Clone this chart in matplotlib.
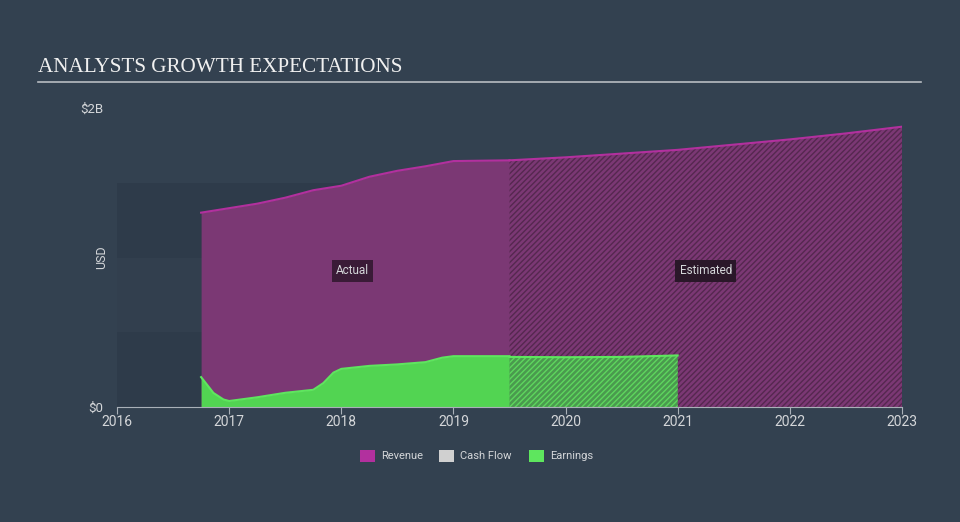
import matplotlib.pyplot as plt
import numpy as np
from matplotlib.patches import Rectangle

plt.rcParams['font.family'] = ['Roboto', 'DejaVu Sans']
plt.rcParams['hatch.linewidth'] = 1.0

# revenue, in $B
rev_years = [2016.75, 2017.0, 2017.25, 2017.5, 2017.75, 2018.0, 2018.25, 2018.5, 2018.75, 2019.0, 2019.5]
rev_values = [1.30, 1.33, 1.36, 1.40, 1.45, 1.48, 1.54, 1.58, 1.61, 1.645, 1.65]
rev_est_years = [2019.5, 2020.0, 2020.5, 2021.0, 2021.5, 2022.0, 2022.5, 2023.0]
rev_est_values = [1.65, 1.67, 1.695, 1.72, 1.755, 1.79, 1.83, 1.875]

# earnings, in $B
earn_years = [2016.75, 2016.86, 2016.95, 2017.0, 2017.25, 2017.5, 2017.75, 2017.84, 2017.93,
              2018.0, 2018.25, 2018.5, 2018.75, 2018.9, 2019.0, 2019.5]
earn_values = [0.20, 0.094, 0.05, 0.04, 0.065, 0.095, 0.115, 0.16, 0.23,
               0.255, 0.275, 0.285, 0.30, 0.33, 0.34, 0.34]
earn_est_years = [2019.5, 2020.0, 2020.5, 2021.0]
earn_est_values = [0.335, 0.333, 0.335, 0.345]

tick_years = [2016, 2017, 2018, 2019, 2020, 2021, 2022, 2023]
band_edges = [0.0, 0.5, 1.0, 1.5]
now = 2019.5

BG = '#334150'
TXT = '#d4d6d9'
REV_FILL = '#7b3874'
REV_LINE = '#b2309e'
EARN_FILL = '#52d452'
EARN_LINE = '#5ee65e'

fig = plt.figure(figsize=(9.6, 5.22), dpi=100)
fig.patch.set_facecolor(BG)
ax = fig.add_axes([117/960, 1 - 407/522, (902-117)/960, (407-108)/522])
ax.set_facecolor(BG)

# slightly darker bands over the past period
for i in range(len(band_edges) - 1):
    if i % 2 == 0:
        c = '#2e3b4a'
    else:
        c = '#323f4e'
    ax.add_patch(Rectangle((2016, band_edges[i]), now - 2016, band_edges[i+1] - band_edges[i],
                           facecolor=c, edgecolor='none', zorder=0))

# revenue
ax.fill_between(rev_years, 0, rev_values, color=REV_FILL, lw=0, zorder=1)
ax.fill_between(rev_est_years, 0, rev_est_values, facecolor=REV_FILL, edgecolor='#55284f',
                hatch='//////', lw=0, zorder=1)
ax.plot(rev_years, rev_values, color=REV_LINE, lw=1.5, zorder=3)
ax.plot(rev_est_years, rev_est_values, color=REV_LINE, lw=1.5, zorder=3)

# earnings
ax.fill_between(earn_years, 0, earn_values, color=EARN_FILL, lw=0, zorder=2)
ax.fill_between(earn_est_years, 0, earn_est_values, facecolor='#4a9a4e', edgecolor='#5ed65e',
                hatch='//////', lw=0, zorder=2)
ax.plot(earn_years, earn_values, color=EARN_LINE, lw=1.5, zorder=3)
ax.plot(earn_est_years, earn_est_values, color=EARN_LINE, lw=1.5, zorder=3)

ax.set_xlim(2016, 2023)
ax.set_ylim(0, 2.0)
for s in ['top', 'right', 'left']:
    ax.spines[s].set_visible(False)
ax.spines['bottom'].set_color('#a9b0b8')
ax.set_xticks(tick_years)
ax.set_xticklabels([str(y) for y in tick_years])
ax.tick_params(axis='x', colors='#a9b0b8', labelcolor=TXT, labelsize=10, length=5, pad=1)
ax.set_yticks([0, 2.0])
ax.set_yticklabels(['$0', '$2B'])
ax.tick_params(axis='y', length=0, labelcolor=TXT, labelsize=9.5, pad=10)
ax.set_ylabel('USD', color=TXT, fontsize=9)
ax.yaxis.set_label_coords(-0.011, 0.5)

ax.text(2018.1, 0.91, 'Actual', color=TXT, fontsize=8.5, ha='center', va='center',
        bbox=dict(boxstyle='square,pad=0.35', fc='#3a1b37', ec='none'), zorder=5)
ax.text(2021.25, 0.91, 'Estimated', color=TXT, fontsize=8.5, ha='center', va='center',
        bbox=dict(boxstyle='square,pad=0.35', fc='#2a1729', ec='none'), zorder=5)

# title and rule
fig.text(38/960, 1 - 67/522, 'ANALYSTS GROWTH EXPECTATIONS', color='#f0f0f0',
         fontsize=15.2, family='Liberation Serif', va='center', ha='left')
fig.add_artist(plt.Line2D([38/960, 921/960], [1 - 82/522, 1 - 82/522],
                          color='#b8bcc2', lw=1.2))

# legend
legend_items = [('Revenue', '#b2309e'), ('Cash Flow', '#d0d0d0'), ('Earnings', '#5ee65e')]
legend_x = [360, 439, 529]
for (lab, col), lx in zip(legend_items, legend_x):
    fig.add_artist(Rectangle((lx/960, 1 - 462/522), 15/960, 12/522, transform=fig.transFigure,
                             facecolor=col, edgecolor='none'))
    fig.text((lx + 21)/960, 1 - 456/522, lab, color=TXT, fontsize=8, va='center', ha='left')

fig.savefig('out.png', dpi=100, facecolor=BG)
